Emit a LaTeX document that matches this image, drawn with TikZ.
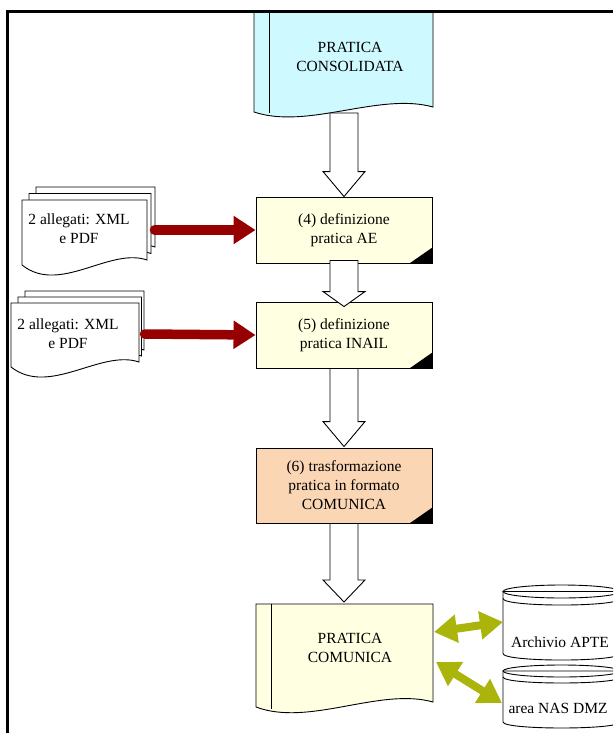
\documentclass[tikz,border=0pt]{standalone}
\usepackage{fontspec}
\setmainfont{Liberation Serif}
\usetikzlibrary{arrows.meta}
\definecolor{cyanfill}{RGB}{206,250,255}
\definecolor{yelfill}{RGB}{255,255,225}
\definecolor{peachfill}{RGB}{251,214,180}
\definecolor{redarr}{RGB}{150,0,0}
\definecolor{greenarr}{RGB}{170,180,10}
% document outline: x1, ytop, x2, y left bottom, up control, down control
\newcommand\docpath[6]{(#1,#2) -- (#3,#2) -- ({#3},{#4-5}) .. controls ({#3-0.3*(#3-#1)},{#4-#5}) and ({#1+0.3*(#3-#1)},{#4+#6}) .. (#1,#4) -- cycle}
% block arrow: from, to, head length
\newcommand\blockarrow[3]{\draw[blockarrowstyle] ([xshift=-14pt]#1) -- ([xshift=-14pt,yshift=#3]#2) -- ([xshift=-21pt,yshift=#3]#2) -- (#2) -- ([xshift=21pt,yshift=#3]#2) -- ([xshift=14pt,yshift=#3]#2) -- ([xshift=14pt]#1) -- cycle;}
\begin{document}
\begin{tikzpicture}[x=1pt,y=-1pt,
  every node/.style={font=\fontsize{15.5}{19}\selectfont},
  outline/.style={draw=black, line width=0.9pt},
  procbox/.style={outline, minimum width=176pt, minimum height=66pt, align=center, inner sep=0pt},
  txt/.style={align=center, inner sep=0pt},
  blockarrowstyle/.style={outline, fill=white, line join=miter},
  redconn/.style={draw=redarr, line width=9.5pt, line cap=round, -{Triangle[length=22pt,width=27pt]}},
  greenconn/.style={draw=greenarr, line width=8pt, {Triangle[length=23pt,width=27pt]}-{Triangle[length=23pt,width=27pt]}},
  cornermark/.style={fill=black}]
\useasboundingbox (0,0) rectangle (613,733);
\clip (0,0) rectangle (613,733);

% top document
\filldraw[outline, fill=cyanfill] \docpath{254}{11}{433}{112}{20}{18};
\draw[outline] (269,11) -- (269,113.5);
\node[txt] (cons) at (350,57) {PRATICA\\CONSOLIDATA};
\coordinate (consb) at (344,113);

% stack 1
\filldraw[outline, fill=white] \docpath{36}{187}{155}{252}{18}{30};
\filldraw[outline, fill=white] \docpath{29}{193.5}{151}{258.5}{18}{30};
\filldraw[outline, fill=white] \docpath{22}{200}{147}{265}{18}{30};
\node[txt] (att1) at (79,229) {2 allegati: XML\\e PDF};
\coordinate (s1) at (154.5,230);

% stack 2
\filldraw[outline, fill=white] \docpath{25}{291}{144}{355}{18}{30};
\filldraw[outline, fill=white] \docpath{18}{297}{141.5}{361}{18}{30};
\filldraw[outline, fill=white] \docpath{11}{303}{139}{367}{18}{30};
\node[txt] (att2) at (68,334) {2 allegati: XML\\e PDF};
\coordinate (s2) at (144.5,334);

% process boxes
\node[procbox, fill=yelfill] (b4) at (344,230) {(4) definizione\\pratica AE};
\fill[cornermark] (b4.south east) -- ++(0,-16) -- ++(-23,16) -- cycle;
\node[procbox, fill=yelfill] (b5) at (344,335) {(5) definizione\\pratica INAIL};
\fill[cornermark] (b5.south east) -- ++(0,-16) -- ++(-23,16) -- cycle;
\node[procbox, fill=peachfill, minimum height=75pt] (b6) at (344,485.5) {(6) trasformazione\\pratica in formato\\COMUNICA};
\fill[cornermark] (b6.south east) -- ++(0,-16) -- ++(-23,16) -- cycle;

% bottom document
\filldraw[outline, fill=yelfill] \docpath{256}{604}{433}{707}{20}{20};
\draw[outline] (271,604) -- (271,708.5);
\node[txt] (com) at (350,648) {PRATICA\\COMUNICA};
\coordinate (comtop) at (344,602);

% cylinders
\filldraw[outline, fill=white] (503,591.5) -- (503,653.5) .. controls (503,662.2) and (620,662.2) .. (620,653.5) -- (620,591.5) -- cycle;
\draw[outline] (561.5,591.5) ellipse [x radius=58.5, y radius=6.5];
\draw[outline] (503,598.5) .. controls (503,607.2) and (620,607.2) .. (620,598.5);
\node[txt] (apte) at (560,642) {Archivio APTE};

\filldraw[outline, fill=white] (503,671) -- (503,722) .. controls (503,730) and (620,730) .. (620,722) -- (620,671) -- cycle;
\draw[outline] (561.5,671) ellipse [x radius=58.5, y radius=6];
\draw[outline] (503,677) .. controls (503,685) and (620,685) .. (620,677);
\node[txt] (nas) at (558,708) {area NAS DMZ};

% block arrows
\coordinate (t4) at (b4.north);
\coordinate (t5) at ([yshift=-5pt]b5.north);
\coordinate (f5) at ([yshift=3pt]b4.south);
\coordinate (t6) at ([yshift=1pt]b6.north);
\blockarrow{consb}{t4}{25pt}
\blockarrow{f5}{t5}{15pt}
\blockarrow{b5.south}{t6}{25pt}
\blockarrow{b6.south}{comtop}{22pt}

% red connectors
\draw[redconn] (s1) -- (b4.west);
\draw[redconn] (s2) -- (b5.west);

% green connectors
\coordinate (g1a) at (434,632);
\coordinate (g1b) at (503,622);
\coordinate (g2a) at (436,662);
\coordinate (g2b) at (502,703);
\draw[greenconn] (g1a) -- (g1b);
\draw[greenconn] (g2a) -- (g2b);

% frame
\draw[line width=3pt] (7,733) -- (7,12) -- (613,12);
\end{tikzpicture}
\end{document}
